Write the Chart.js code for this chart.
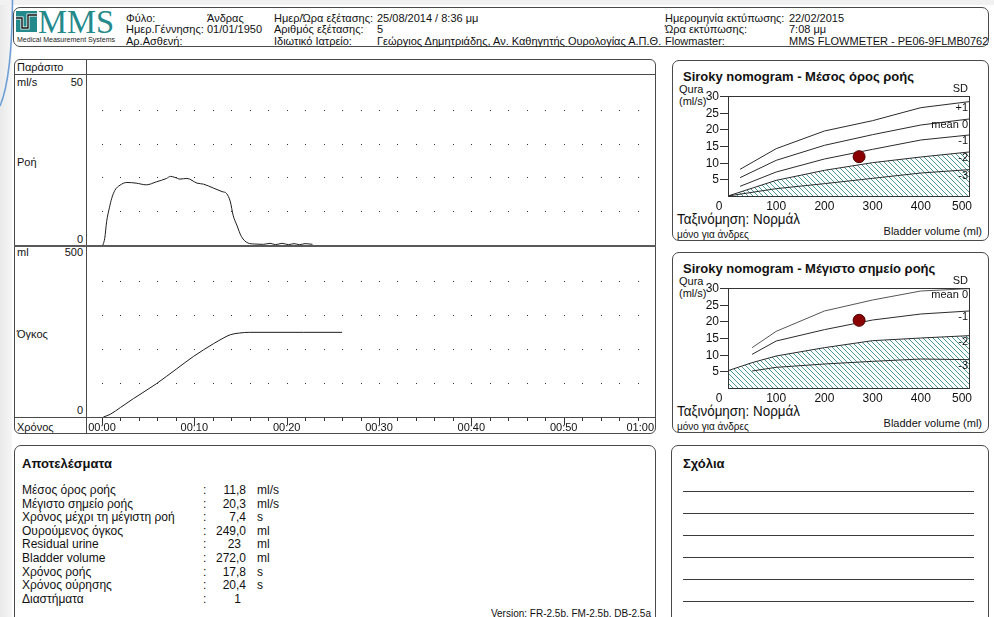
<!DOCTYPE html>
<html>
<head>
<meta charset="utf-8">
<script src="https://cdn.jsdelivr.net/npm/chart.js@4.4.1/dist/chart.umd.min.js"></script>
<style>
  html, body { margin: 0; padding: 0; }
  body { width: 994px; height: 617px; overflow: hidden; background: #fff; position: relative;
         font-family: "Liberation Sans", Arial, sans-serif; color: #111; }
  .t { position: absolute; line-height: 1; white-space: nowrap; }
  .box { position: absolute; border: 1px solid #4a4a4a; border-radius: 6px; box-sizing: border-box; background: #fff; }
  .ln { position: absolute; background: #4a4a4a; }
  canvas { position: absolute; }
</style>
</head>
<body>
<div style="position:absolute;left:0;top:0;width:12px;height:617px;background:linear-gradient(90deg,#e9e9e9,#f6f6f6)"></div>
<div style="position:absolute;left:0;top:0;width:994px;height:5px;background:#f1f1f1"></div>
<svg style="position:absolute;left:0;top:0" width="20" height="120">
  <path d="M12.5 0 Q 12 78 0 106" fill="none" stroke="#6d9fd6" stroke-width="1.6"/>
</svg>

<script>
// ---- recording: flow rate (ml/s) against time (s)
const flowTime = [0.1, 0.3, 0.5, 0.8, 1.05, 1.4, 1.95, 2.7, 3.7, 4.8, 5.9, 7.0, 7.4, 7.9, 8.45, 9.2,
                  10.3, 11.0, 12.1, 13.0, 13.5, 13.9, 14.2, 14.6, 15.1, 15.8, 16.5, 17.5, 18.2, 18.8,
                  19.5, 20.2, 20.8, 21.4, 22.0, 22.8];
const flowRate = [0, 2.0, 6.9, 11.0, 13.8, 16.2, 17.7, 18.5, 18.3, 17.8, 18.7, 19.7, 20.3, 20.0, 19.5, 19.7,
                  18.3, 18.0, 16.8, 15.8, 15.2, 12.8, 8.8, 5.9, 2.5, 0.6, 0.3, 0.2, 0.5, 0.1,
                  0.5, 0.1, 0.4, 0.1, 0.4, 0.2];

// ---- recording: voided volume (ml) against time (s)
const volumeTime  = [0.15, 0.9, 2.0, 3.4, 5.9, 8.1, 9.9, 12.1, 13.2, 13.9, 14.9, 16.0, 21.8, 26.0];
const volumeValue = [0, 8, 28, 54, 98, 142, 178, 216, 233, 242, 247, 249, 249, 249];

// ---- axes of the recording
const timeTicks = [0, 10, 20, 30, 40, 50, 60];
const timeGridStep = 2;
const flowGridRows = [10, 20, 30, 40];
const volumeGridRows = [100, 200, 300, 400];
const flowMax = 50;
const volumeMax = 500;

// ---- Siroky nomogram axes
const nomoTicksX = [0, 100, 200, 300, 400, 500];
const nomoTicksY = [5, 10, 15, 20, 25, 30];

// ---- Siroky nomogram, mean flow rate (ml/s) by bladder volume (ml)
const meanUpperVolumes = [25, 100, 200, 300, 400, 500];
const meanPlus1  = [8.0, 14.2, 19.5, 22.6, 26.5, 28.3];
const meanZero   = [5.5, 10.7, 15.2, 18.4, 21.3, 23.1];
const meanMinus1 = [2.9, 7.2, 11.1, 14.0, 16.8, 18.3];
const meanLowerVolumes = [0, 100, 200, 300, 400, 500];
const meanMinus2 = [0, 4.7, 7.7, 10.0, 11.7, 13.2];
const meanMinus3 = [0, 2.2, 3.7, 5.3, 6.9, 7.9];

// ---- Siroky nomogram, maximum flow rate (ml/s) by bladder volume (ml)
const maxUpperVolumes = [50, 100, 200, 300, 400, 500];
const maxZero   = [12.1, 17.0, 23.1, 26.4, 29.1, 29.8];
const maxMinus1 = [10.1, 14.1, 17.5, 20.4, 22.2, 23.1];
const maxMinus3 = [5.1, 6.2, 7.2, 8.0, 8.7, 8.5];
const maxLowerVolumes = [0, 50, 100, 200, 300, 400, 500];
const maxMinus2 = [5.2, 7.6, 9.6, 12.1, 14.2, 15.0, 15.7];

// ---- results of the examination
const meanFlowRate = 11.8;
const maxFlowRate = 20.3;
const timeToMax = 7.4;
const voidedVolume = 249.0;
const residualUrine = 23;
const bladderVolume = 272.0;
const flowTimeTotal = 17.8;
const voidingTime = 20.4;
const intervals = 1;

const resultLabels = ['Μέσος όρος ροής', 'Μέγιστο σημείο ροής', 'Χρόνος μέχρι τη μέγιστη ροή',
  'Ουρούμενος όγκος', 'Residual urine', 'Bladder volume', 'Χρόνος ροής', 'Χρόνος ούρησης', 'Διαστήματα'];
const gr1 = v => v.toFixed(1).replace('.', ',');
const resultValues = [gr1(meanFlowRate), gr1(maxFlowRate), gr1(timeToMax), gr1(voidedVolume),
  String(residualUrine), gr1(bladderVolume), gr1(flowTimeTotal), gr1(voidingTime), String(intervals)];
const resultUnits = ['ml/s', 'ml/s', 's', 'ml', 'ml', 'ml', 's', 's', ''];

// ---------------------------------------------------------------- page helpers
Chart.defaults.font.family = '"Liberation Sans", Arial, sans-serif';
const FONT = '"Liberation Sans", Arial, sans-serif';

function put(text, x, cy, o = {}) {
  const d = document.createElement('div');
  d.className = 't';
  d.textContent = text;
  d.style.left = x + 'px';
  d.style.top = cy + 'px';
  d.style.fontSize = (o.size || 11) + 'px';
  if (o.bold) d.style.fontWeight = 'bold';
  if (o.color) d.style.color = o.color;
  if (o.family) d.style.fontFamily = o.family;
  const tx = o.align === 'right' ? '-100%' : (o.align === 'center' ? '-50%' : '0');
  d.style.transformOrigin = '0 50%';
  document.body.appendChild(d);
  let sx = 1;
  if (o.width) sx = o.width / d.getBoundingClientRect().width;
  d.style.transform = `translate(${tx},-50%) scaleX(${sx})`;
  return d;
}
function box(l, t, r, b, radius = 6) {
  const d = document.createElement('div');
  d.className = 'box';
  Object.assign(d.style, { left: l + 'px', top: t + 'px', width: (r - l) + 'px', height: (b - t) + 'px', borderRadius: radius + 'px' });
  document.body.appendChild(d);
}
function hline(x1, x2, y, w = 1, color = '#4a4a4a') {
  const d = document.createElement('div');
  d.className = 'ln';
  Object.assign(d.style, { left: x1 + 'px', top: y + 'px', width: (x2 - x1) + 'px', height: w + 'px', background: color });
  document.body.appendChild(d);
}
function vline(x, y1, y2, w = 1, color = '#4a4a4a') {
  const d = document.createElement('div');
  d.className = 'ln';
  Object.assign(d.style, { left: x + 'px', top: y1 + 'px', width: w + 'px', height: (y2 - y1) + 'px', background: color });
  document.body.appendChild(d);
}
function canvasAt(l, t, w, h) {
  const c = document.createElement('canvas');
  c.width = w; c.height = h;
  Object.assign(c.style, { left: l + 'px', top: t + 'px', width: w + 'px', height: h + 'px' });
  document.body.appendChild(c);
  return c;
}
const pts = (xs, ys) => xs.map((x, i) => ({ x, y: ys[i] }));

// ---------------------------------------------------------------- header
box(13, 7, 989, 47, 7);
const logo = document.createElementNS('http://www.w3.org/2000/svg', 'svg');
logo.setAttribute('width', '24'); logo.setAttribute('height', '24');
logo.style.position = 'absolute'; logo.style.left = '15px'; logo.style.top = '10px';
logo.innerHTML = '<rect x="1" y="1" width="21" height="21" fill="#23898b"/>' +
  '<path d="M1 8 H7 V18 H13 V5 H22" fill="none" stroke="#fff" stroke-width="3"/>' +
  '<path d="M1 8 H7 V18 H13 V5 H22" fill="none" stroke="#111" stroke-width="1.4"/>';
document.body.appendChild(logo);
put('MMS', 38, 22, { size: 33, family: '"Liberation Serif", "Times New Roman", serif', color: '#23898b', width: 76 });
put('Medical Measurement Systems', 17, 40, { size: 6.5, color: '#222', width: 98 });

const headRows = [17.5, 29, 40.5];
put('Φύλο:', 126, headRows[0]); put('Άνδρας', 207, headRows[0]);
put('Ημερ.Γέννησης:', 126, headRows[1]); put('01/01/1950', 207, headRows[1]);
put('Αρ.Ασθενή:', 126, headRows[2]);
put('Ημερ/Ώρα εξέτασης:', 274, headRows[0]); put('25/08/2014 / 8:36 μμ', 377, headRows[0]);
put('Αριθμός εξέτασης:', 274, headRows[1]); put('5', 377, headRows[1]);
put('Ιδιωτικό Ιατρείο:', 274, headRows[2]); put('Γεώργιος Δημητριάδης, Αν. Καθηγητής Ουρολογίας Α.Π.Θ.', 377, headRows[2]);
put('Ημερομηνία εκτύπωσης:', 665, headRows[0]); put('22/02/2015', 789, headRows[0]);
put('Ώρα εκτύπωσης:', 665, headRows[1]); put('7:08 μμ', 789, headRows[1]);
put('Flowmaster:', 665, headRows[2]); put('MMS FLOWMETER - PE06-9FLMB0762', 789, headRows[2]);

// ---------------------------------------------------------------- recording panel
box(14, 59, 656, 434, 6);
vline(86, 59, 434);
hline(14, 656, 74);
hline(14, 656, 245, 2, '#5a5a5a');
hline(14, 656, 417);
put('Παράσιτο', 17, 67);
put('ml/s', 17, 82); put(String(flowMax), 83, 82, { align: 'right' });
put('Ροή', 17, 162);
put('0', 83, 239, { align: 'right' });
put('ml', 17, 252); put(String(volumeMax), 83, 252, { align: 'right' });
put('Όγκος', 17, 334);
put('0', 83, 410, { align: 'right' });
put('Χρόνος', 17, 427);

// dotted grid drawn at every grid step and every grid row, through the chart scales
const dotGrid = rows => ({
  id: 'dotGrid',
  beforeDatasetsDraw(chart) {
    const { ctx, scales: { x, y } } = chart;
    ctx.save();
    ctx.fillStyle = '#333';
    for (let t = x.min; t < x.max; t += timeGridStep) {
      for (const r of rows) {
        ctx.fillRect(Math.round(x.getPixelForValue(t)), Math.round(y.getPixelForValue(r)), 1, 1);
      }
    }
    ctx.restore();
  }
});

// time axis under the volume trace
const timeAxis = {
  id: 'timeAxis',
  afterDraw(chart) {
    const { ctx, chartArea, scales: { x } } = chart;
    ctx.save();
    ctx.strokeStyle = '#333';
    ctx.lineWidth = 1;
    for (let t = x.min; t <= x.max; t += timeGridStep) {
      const px = Math.round(x.getPixelForValue(t)) + 0.5;
      const len = t % 10 === 0 ? 7 : 3;
      ctx.beginPath();
      ctx.moveTo(px, chartArea.bottom + 1);
      ctx.lineTo(px, chartArea.bottom + 1 + len);
      ctx.stroke();
    }
    ctx.fillStyle = '#111';
    ctx.font = '11px ' + FONT;
    ctx.textBaseline = 'middle';
    for (const t of timeTicks) {
      const mm = Math.floor(t / 60), ss = t % 60;
      const txt = String(mm).padStart(2, '0') + ':' + String(ss).padStart(2, '0');
      const px = x.getPixelForValue(t);
      const w = ctx.measureText(txt).width;
      let left = px - w / 2;
      if (left + w > chart.width - 2) left = chart.width - 2 - w;
      ctx.textAlign = 'left';
      ctx.fillText(txt, left, chartArea.bottom + 11);
    }
    ctx.restore();
  }
};

const recOptions = (ymax, pad) => ({
  responsive: false, animation: false, events: [],
  layout: { padding: pad },
  scales: {
    x: { type: 'linear', min: 0, max: 60, display: false },
    y: { type: 'linear', min: 0, max: ymax, display: false }
  },
  plugins: { legend: { display: false }, tooltip: { enabled: false } }
});

new Chart(canvasAt(87, 75, 569, 170), {
  type: 'line',
  data: { datasets: [{ data: pts(flowTime, flowRate), borderColor: '#1c1c1c', borderWidth: 1,
                       pointRadius: 0, cubicInterpolationMode: 'monotone' }] },
  options: recOptions(flowMax, { left: 15, right: 0, top: 1, bottom: 0 }),
  plugins: [dotGrid(flowGridRows)]
});

new Chart(canvasAt(87, 247, 569, 187), {
  type: 'line',
  data: { datasets: [{ data: pts(volumeTime, volumeValue), borderColor: '#1c1c1c', borderWidth: 1,
                       pointRadius: 0, cubicInterpolationMode: 'monotone' }] },
  options: recOptions(volumeMax, { left: 15, right: 0, top: 0, bottom: 17 }),
  plugins: [dotGrid(volumeGridRows), timeAxis]
});

// ---------------------------------------------------------------- Siroky nomograms
function hatchPattern() {
  const s = 5;
  const c = document.createElement('canvas');
  c.width = s; c.height = s;
  const g = c.getContext('2d');
  g.strokeStyle = '#4c9c9d';
  g.lineWidth = 1;
  g.beginPath();
  g.moveTo(0, 0); g.lineTo(s, s);
  g.moveTo(-1, s - 1); g.lineTo(1, s + 1);
  g.moveTo(s - 1, -1); g.lineTo(s + 1, 1);
  g.stroke();
  return g.createPattern(c, 'repeat');
}

function nomogram(top, title, curves, flowValue) {
  box(672, top, 989, top + 181, 7);
  put(title, 683, top + 16, { size: 13, bold: true });
  put('Qura', 679, top + 29);
  put('(ml/s)', 679, top + 41);
  put('Ταξινόμηση: Νορμάλ', 677, top + 159, { size: 14, width: 123 });
  put('μόνο για άνδρες', 677, top + 175, { size: 10 });
  put('Bladder volume (ml)', 982, top + 171, { align: 'right' });

  const frame = {
    id: 'nomoFrame',
    afterDatasetsDraw(chart) {
      const { ctx, chartArea: a, scales: { x, y } } = chart;
      ctx.save();
      ctx.strokeStyle = '#333';
      ctx.lineWidth = 1;
      ctx.strokeRect(Math.round(a.left) + 0.5, Math.round(a.top) + 0.5,
                     Math.round(a.right - a.left), Math.round(a.bottom - a.top));
      ctx.fillStyle = '#111';
      ctx.font = '12px ' + FONT;
      ctx.textBaseline = 'middle';
      ctx.textAlign = 'right';
      for (const v of nomoTicksY) {
        const py = Math.round(y.getPixelForValue(v)) + 0.5;
        ctx.beginPath(); ctx.moveTo(a.left - 8, py); ctx.lineTo(a.left, py); ctx.stroke();
        ctx.fillText(String(v), a.left - 9, py);
      }
      nomoTicksX.forEach((v, i) => {
        const px = x.getPixelForValue(v);
        if (i === 0) { ctx.textAlign = 'center'; ctx.fillText(String(v), px - 9, a.bottom + 11); }
        else if (i === nomoTicksX.length - 1) { ctx.textAlign = 'right'; ctx.fillText(String(v), px + 3, a.bottom + 11); }
        else { ctx.textAlign = 'center'; ctx.fillText(String(v), px, a.bottom + 11); }
      });
      ctx.font = '11px ' + FONT;
      ctx.textAlign = 'right';
      ctx.fillText('SD', a.right - 1, a.top - 7);
      for (const c of curves) {
        const last = c.values[c.values.length - 1];
        ctx.fillText(c.name, a.right - 1, y.getPixelForValue(last) + 6);
      }
      ctx.restore();
    }
  };

  const datasets = [{
    type: 'scatter', data: [{ x: bladderVolume, y: flowValue }], order: 0,
    pointRadius: 6, pointBackgroundColor: '#8a0000', pointBorderColor: '#4d0000', pointBorderWidth: 1
  }];
  for (const c of curves) {
    datasets.push({
      type: 'line', data: pts(c.volumes, c.values), order: c.fill ? 3 : 1,
      borderColor: c.color || '#2a2a2a', borderWidth: 1, pointRadius: 0, tension: 0,
      fill: c.fill ? 'origin' : false, backgroundColor: c.fill ? hatchPattern() : 'transparent'
    });
  }

  new Chart(canvasAt(672, top, 317, 181), {
    data: { datasets },
    options: {
      responsive: false, animation: false, events: [],
      layout: { padding: { left: 56, right: 20, top: 36, bottom: 45 } },
      scales: {
        x: { type: 'linear', min: 0, max: 500, display: false },
        y: { type: 'linear', min: 0, max: 30, display: false }
      },
      plugins: { legend: { display: false }, tooltip: { enabled: false } }
    },
    plugins: [frame]
  });
}

nomogram(60, 'Siroky nomogram - Μέσος όρος ροής', [
  { name: '+1', volumes: meanUpperVolumes, values: meanPlus1 },
  { name: 'mean 0', volumes: meanUpperVolumes, values: meanZero },
  { name: '-1', volumes: meanUpperVolumes, values: meanMinus1 },
  { name: '-2', volumes: meanLowerVolumes, values: meanMinus2, fill: true },
  { name: '-3', volumes: meanLowerVolumes, values: meanMinus3 }
], meanFlowRate);

nomogram(252, 'Siroky nomogram - Μέγιστο σημείο ροής', [
  { name: 'mean 0', volumes: maxUpperVolumes, values: maxZero, color: '#555' },
  { name: '-1', volumes: maxUpperVolumes, values: maxMinus1 },
  { name: '-2', volumes: maxLowerVolumes, values: maxMinus2, fill: true },
  { name: '-3', volumes: maxUpperVolumes, values: maxMinus3 }
], maxFlowRate);

// ---------------------------------------------------------------- results
box(14, 445, 656, 640, 7);
put('Αποτελέσματα', 22, 463, { size: 13, bold: true });
resultLabels.forEach((lab, i) => {
  const cy = 490 + i * 13.6;
  put(lab, 22, cy, { size: 12 });
  put(':', 203, cy, { size: 12 });
  const val = resultValues[i];
  put(val, val.includes(',') ? 246 : 241, cy, { size: 12, align: 'right' });
  if (resultUnits[i]) put(resultUnits[i], 257, cy, { size: 12 });
});
put('Version: FR-2.5b, FM-2.5b, DB-2.5a', 651, 614, { size: 10, align: 'right' });

// ---------------------------------------------------------------- comments
box(671, 445, 989, 640, 7);
put('Σχόλια', 683, 463, { size: 13, bold: true });
for (let i = 0; i < 6; i++) hline(683, 974, 491 + i * 22, 1, '#3a3a3a');
</script>
</body>
</html>
